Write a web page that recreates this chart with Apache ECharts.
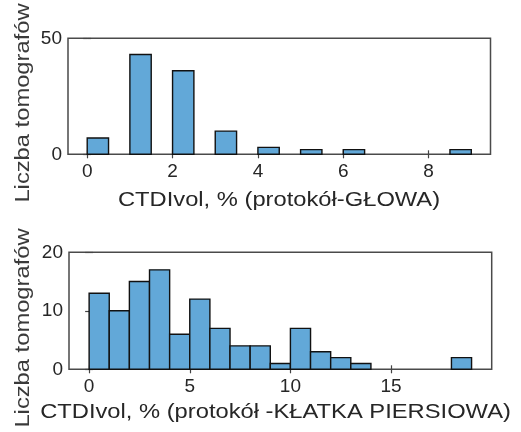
<!DOCTYPE html>
<html>
<head>
<meta charset="utf-8">
<script src="https://cdn.jsdelivr.net/npm/echarts@6/dist/echarts.min.js"></script>
<style>html,body{margin:0;padding:0;background:#fff}#c{width:521px;height:432px}</style>
</head>
<body>
<div id="c"></div>
<script>
// ---- data ----
const headBinStarts = [0, 0.5, 1, 1.5, 2, 2.5, 3, 3.5, 4, 4.5, 5, 5.5, 6, 6.5, 7, 7.5, 8, 8.5];
const headBinWidth = 0.5;
const headCounts = [7, 0, 43, 0, 36, 0, 10, 0, 3, 0, 2, 0, 2, 0, 0, 0, 0, 2];
const headXTicks = [0, 2, 4, 6, 8];
const headYTicks = [0, 50];

const chestBinStarts = [0, 1, 2, 3, 4, 5, 6, 7, 8, 9, 10, 11, 12, 13, 14, 15, 16, 17, 18];
const chestBinWidth = 1;
const chestCounts = [13, 10, 15, 17, 6, 12, 7, 4, 4, 1, 7, 3, 2, 1, 0, 0, 0, 0, 2];
const chestXTicks = [0, 5, 10, 15];
const chestYTicks = [0, 10, 20];

const yLabel = 'Liczba tomografów';
const headXLabel = 'CTDIvol, % (protokół-GŁOWA)';
const chestXLabel = 'CTDIvol, % (protokół -KŁATKA PIERSIOWA)';

// ---- build ----
function binData(starts, w, counts) {
  const out = [];
  starts.forEach((s, i) => { if (counts[i] > 0) out.push([s, s + w, counts[i]]); });
  return out;
}
const FILL = '#62a8d8';
function renderItem(params, api) {
  const p0 = api.coord([api.value(0), api.value(2)]);
  const p1 = api.coord([api.value(1), 0]);
  return {
    type: 'rect',
    shape: { x: p0[0], y: p0[1], width: p1[0] - p0[0], height: p1[1] - p0[1] },
    style: { fill: FILL, stroke: '#111', lineWidth: 1.4 }
  };
}
const FONT = 'Liberation Sans';
const TXT = '#262626';
const tickStyle = { show: true, inside: true, length: 4, lineStyle: { color: '#444', width: 1.2 } };
function xAx(grid, min, max, ticks, pos, showLabel) {
  return {
    type: 'value', gridIndex: grid, min: min, max: max, position: pos,
    axisLine: { show: false }, splitLine: { show: false },
    axisTick: Object.assign({ customValues: ticks }, tickStyle),
    axisLabel: { show: showLabel, customValues: ticks, margin: 8, fontFamily: FONT, fontSize: 19, color: TXT }
  };
}
function yAx(grid, min, max, ticks, pos, showLabel) {
  return {
    type: 'value', gridIndex: grid, min: min, max: max, position: pos,
    axisLine: { show: false }, splitLine: { show: false },
    axisTick: Object.assign({ customValues: ticks }, tickStyle),
    axisLabel: { show: showLabel, customValues: ticks, margin: 6, fontFamily: FONT, fontSize: 19, color: TXT }
  };
}
const SX = 1.13;
function titleText(x, y, text, rot) {
  return {
    type: 'text', x: x, y: y, rotation: rot || 0, scaleX: SX, scaleY: 1,
    style: { text: text, fontFamily: FONT, fontSize: 21, fill: rot ? '#3a3a3a' : TXT, align: 'center', verticalAlign: 'middle' }
  };
}

const chart = echarts.init(document.getElementById('c'), null, { renderer: 'canvas' });
chart.setOption({
  animation: false,
  backgroundColor: '#fff',
  grid: [
    { left: 68, right: 30.5, top: 38.3, bottom: 277.7, show: true, borderColor: '#4a4a4a', borderWidth: 1.5, backgroundColor: '#fff' },
    { left: 69, right: 29.3, top: 252.3, bottom: 62.7, show: true, borderColor: '#4a4a4a', borderWidth: 1.5, backgroundColor: '#fff' }
  ],
  xAxis: [
    xAx(0, -0.45, 9.45, headXTicks, 'bottom', true),
    xAx(0, -0.45, 9.45, headXTicks, 'top', false),
    xAx(1, -1, 20, chestXTicks, 'bottom', true),
    xAx(1, -1, 20, chestXTicks, 'top', false)
  ],
  yAxis: [
    yAx(0, 0, 50, headYTicks, 'left', true),
    yAx(0, 0, 50, headYTicks, 'right', false),
    yAx(1, 0, 20, chestYTicks, 'left', true),
    yAx(1, 0, 20, chestYTicks, 'right', false)
  ],
  series: [
    { type: 'custom', xAxisIndex: 0, yAxisIndex: 0, renderItem: renderItem, data: binData(headBinStarts, headBinWidth, headCounts) },
    { type: 'custom', xAxisIndex: 2, yAxisIndex: 2, renderItem: renderItem, data: binData(chestBinStarts, chestBinWidth, chestCounts) }
  ],
  graphic: [
    titleText(279, 200, headXLabel),
    titleText(275.5, 412.5, chestXLabel),
    titleText(23, 103, yLabel, Math.PI / 2),
    titleText(23, 328, yLabel, Math.PI / 2)
  ]
});
</script>
</body>
</html>
